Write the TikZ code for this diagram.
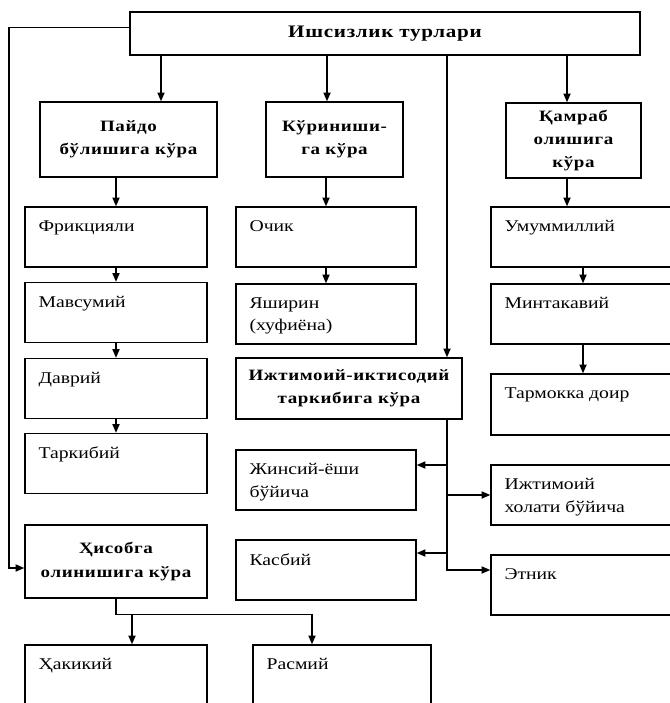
\documentclass[tikz,border=0pt]{standalone}
\usepackage{fontspec}
\setmainfont{Liberation Serif}[FakeStretch=1.2]
\newfontfamily\headfont{Liberation Serif}[FakeStretch=1.2,LetterSpace=4]
\usetikzlibrary{calc}
\usetikzlibrary{arrows.meta}
\newcommand{\unitpx}{0.03cm}

\begin{document}
\begin{tikzpicture}[x=0.03cm, y=-0.03cm,
    box/.style={draw, line width=1.1pt, minimum height=60*\unitpx, inner sep=0pt},
    head/.style={box, align=center, font=\headfont\bfseries\fontsize{13.5}{20}\selectfont},
    item/.style={box, label={[itext]north west:#1}},
    itext/.style={anchor=north west, xshift=14*\unitpx, yshift=-14*\unitpx, align=left, inner sep=0pt, font=\fontsize{14}{19}\selectfont},
    arr/.style={-{Triangle[length=7.5pt,width=6pt]}, line width=1.4pt}]
            \useasboundingbox (0,0) rectangle (669,703);

            % Title
            \node[head, minimum width=510*\unitpx, minimum height=43*\unitpx, font=\headfont\bfseries\fontsize{15}{19}\selectfont] (title) at (385,33.5) {Ишсизлик турлари};

            % Groups
            \node[head, minimum width=177*\unitpx, minimum height=75*\unitpx] (paydo) at (128.5,139.5) {Пайдо\\бўлишига кўра};
            \node[head, minimum width=137*\unitpx, minimum height=75*\unitpx] (kurin) at (334.5,139.5) {Кўриниши-\\га кўра};
            \node[head, minimum width=135*\unitpx, minimum height=75*\unitpx] (qamrab) at (573.5,140.5) {Қамраб\\олишига\\кўра};

            % Left column
            \node[item=Фрикцияли, minimum width=182*\unitpx] (frik) at (116,237) {};
            \node[item=Мавсумий, minimum width=182*\unitpx] (mavs) at (116,312.5) {};
            \node[item=Даврий, minimum width=182*\unitpx] (davr) at (116,388.5) {};
            \node[item=Таркибий, minimum width=182*\unitpx] (tark) at (116,463.5) {};
            \node[head, minimum width=182*\unitpx, minimum height=73*\unitpx] (hisob) at (116,561.5) {Ҳисобга\\олинишига кўра};
            \node[item=Ҳакикий, minimum width=182*\unitpx, minimum height=80*\unitpx] (haq) at (116,685) {};

            % Middle column
            \node[item=Очик, minimum width=180*\unitpx] (ochik) at (326,237) {};
            \node[item={Яширин\\(хуфиёна)}, minimum width=180*\unitpx] (yash) at (326,314) {};
            \node[head, minimum width=226*\unitpx, minimum height=61*\unitpx] (ijt) at (349,388.5) {Ижтимоий-иктисодий\\таркибига кўра};
            \node[item={Жинсий-ёши\\бўйича}, minimum width=180*\unitpx] (jins) at (326,480) {};
            \node[item=Касбий, minimum width=180*\unitpx] (kasb) at (326,570) {};
            \node[item=Расмий, minimum width=178*\unitpx, minimum height=80*\unitpx] (rasm) at (342,685) {};

            % Right column
            \node[item=Умуммиллий, minimum width=184*\unitpx] (umum) at (583,237) {};
            \node[item=Минтакавий, minimum width=184*\unitpx] (mint) at (583,314) {};
            \node[item=Тармокка доир, minimum width=184*\unitpx, minimum height=61*\unitpx] (tarm) at (583,404.5) {};
            \node[item={Ижтимоий\\холати бўйича}, minimum width=184*\unitpx] (ijh) at (583,495) {};
            \node[item=Этник, minimum width=184*\unitpx] (etnik) at (583,585) {};

            % Drop lines from the title
            \coordinate (c1) at (161,0);
            \coordinate (c2) at (327,0);
            \coordinate (c3) at (567,0);
            \coordinate (c4) at (447,0);
            \coordinate (lft) at (9,0);
            \draw[arr] (title.south -| c1) -- (paydo.north -| c1);
            \draw[arr] (title.south -| c2) -- (kurin.north -| c2);
            \draw[arr] (title.south -| c3) -- (qamrab.north -| c3);
            \draw[arr] (title.south -| c4) -- (ijt.north -| c4);

            % Column arrows
            \draw[arr] (paydo.south -| frik.north) -- (frik.north);
            \draw[arr] (frik) -- (mavs);
            \draw[arr] (mavs) -- (davr);
            \draw[arr] (davr) -- (tark);
            \draw[arr] (kurin.south -| ochik.north) -- (ochik.north);
            \draw[arr] (ochik) -- (yash);
            \draw[arr] (qamrab.south -| c3) -- (umum.north -| c3);
            \draw[arr] (umum) -- (mint);
            \draw[arr] (mint) -- (tarm);

            % Long line on the left
            \coordinate (tw) at ($(title.west)+(0,-6)$);
            \draw[arr] (tw) -- (tw -| lft) |- ($(hisob.west)+(0,6.5)$);

            % Split below hisob
            \draw[arr] (hisob.south) |- ($(rasm.north)+(-30,-30)$) -- ($(rasm.north)+(-30,0)$);
            \draw[arr] ($(haq.north)+(16,-30)$) -- ($(haq.north)+(16,0)$);

            % Spine below ijt
            \coordinate (jn) at ($(jins.east)+(0,-15)$);
            \coordinate (ks) at ($(kasb.east)+(0,-17)$);
            \coordinate (et) at ($(etnik.west)+(0,-15)$);
            \draw[arr] (ijt.south -| c4) |- (et);
            \draw[arr] (jn -| c4) -- (jn);
            \draw[arr] (ijh.west -| c4) -- (ijh.west);
            \draw[arr] (ks -| c4) -- (ks);

        \end{tikzpicture}
\end{document}
